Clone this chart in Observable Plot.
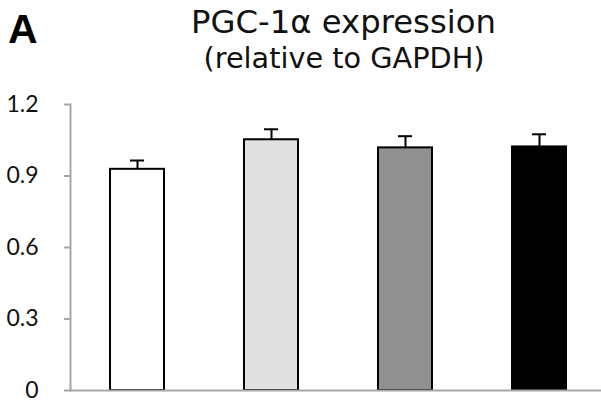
<!DOCTYPE html>
<html>
<head>
<meta charset="utf-8">
<script src="https://cdn.jsdelivr.net/npm/d3@7"></script>
<script src="https://cdn.jsdelivr.net/npm/@observablehq/plot@0.6"></script>
<style>
  html, body { margin: 0; padding: 0; background: #fff; }
  #wrap { position: relative; width: 601px; height: 402px; overflow: hidden; }
  #chart, #overlay { position: absolute; left: 0; top: 0; }
</style>
</head>
<body>
<div id="wrap">
  <div id="chart"></div>
  <svg id="overlay" width="601" height="402"></svg>
</div>
<script>
const groups = ["Group 1", "Group 2", "Group 3", "Group 4"];
const means = [0.928, 1.052, 1.018, 1.022];
const sems = [0.037, 0.044, 0.049, 0.053];
const fills = ["#ffffff", "#e0e0e0", "#909090", "#000000"];
const yTicks = [0, 0.3, 0.6, 0.9, 1.2];
const titleLines = ["PGC-1α expression", "(relative to GAPDH)"];
const panelLabel = "A";

const data = groups.map((g, i) => ({group: g, mean: means[i], upper: means[i] + sems[i], fill: fills[i]}));

const chart = Plot.plot({
  width: 601,
  height: 402,
  marginLeft: 70,
  marginRight: -5,
  marginTop: 104,
  marginBottom: 12,
  style: {fontFamily: "Lato, 'Open Sans', sans-serif", fontSize: "23px", color: "#111", background: "#fff", overflow: "hidden"},
  x: {type: "band", domain: groups, paddingInner: 0.6, paddingOuter: 0.3, align: 0.5, axis: null},
  y: {domain: [0, 1.2], ticks: yTicks},
  marks: [
    Plot.axisY({ticks: yTicks, tickFormat: d => String(d), label: null, tickSize: 6, tickPadding: 26, stroke: "#a6a6a6", strokeWidth: 2, fontSize: 23, fill: "#111"}),
    Plot.frame({anchor: "left", stroke: "#a6a6a6", strokeWidth: 2}),
    Plot.ruleX(data, {x: "group", y1: "mean", y2: "upper", stroke: "#000", strokeWidth: 2}),
    Plot.tickY(data, {x: "group", y: "upper", stroke: "#000", strokeWidth: 2, insetLeft: 20, insetRight: 20}),
    Plot.barY(data, {x: "group", y: "mean", fill: d => d.fill, stroke: "#000", strokeWidth: 2}),
    Plot.ruleY([0], {stroke: "#a6a6a6", strokeWidth: 2})
  ]
});
document.getElementById("chart").appendChild(chart);

// Title and panel label
const ov = d3.select("#overlay");
const titleSpec = [
  {text: titleLines[0], cx: 343.5, baseline: 33, width: 305},
  {text: titleLines[1], cx: 344, baseline: 68, width: 281}
];
titleSpec.forEach(s => {
  const t = ov.append("text")
    .attr("x", s.cx).attr("y", s.baseline)
    .attr("text-anchor", "middle")
    .attr("font-family", "'DejaVu Sans', sans-serif")
    .attr("font-size", 28)
    .attr("fill", "#111")
    .text(s.text);
  const w = t.node().getComputedTextLength();
  if (w > 0) t.attr("font-size", (28 * s.width / w).toFixed(2));
});
ov.append("text")
  .attr("x", 8).attr("y", 43)
  .attr("font-family", "'Liberation Sans', Arial, sans-serif")
  .attr("font-weight", "bold")
  .attr("font-size", 41)
  .attr("fill", "#000")
  .text(panelLabel);
</script>
</body>
</html>
